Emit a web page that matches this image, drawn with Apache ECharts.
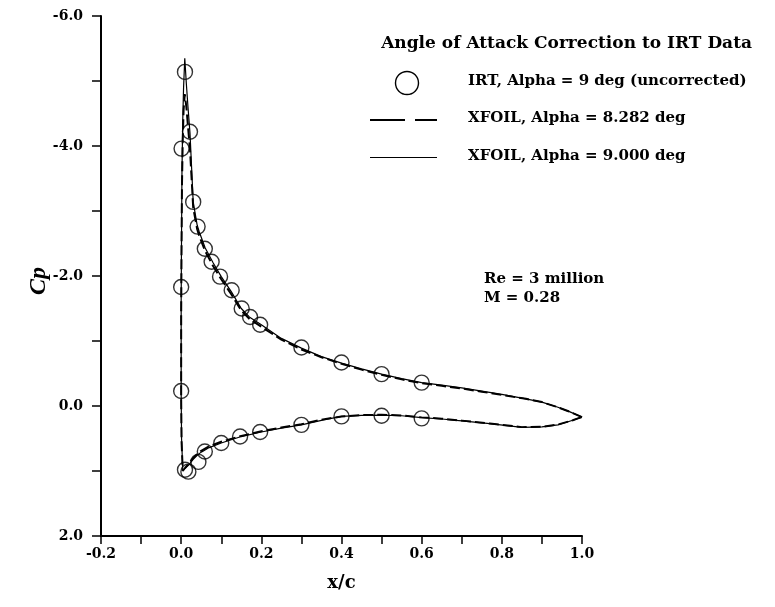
<!DOCTYPE html>
<html>
<head>
<meta charset="utf-8">
<title>Angle of Attack Correction to IRT Data</title>
<script src="https://cdn.jsdelivr.net/npm/echarts@6/dist/echarts.min.js"></script>
<style>
  html, body { margin: 0; padding: 0; background: #fff; }
  #chart { width: 775px; height: 607px; }
</style>
</head>
<body>
<div id="chart"></div>
<script>
// Pressure distribution, x/c vs Cp

// IRT measurements, alpha = 9 deg (uncorrected)
const irtX = [0.0, 0.0, 0.001, 0.0095, 0.022, 0.030, 0.041, 0.059, 0.076, 0.097, 0.126, 0.151, 0.172, 0.197, 0.30, 0.40, 0.50, 0.60,
              0.0095, 0.018, 0.043, 0.059, 0.10, 0.147, 0.197, 0.30, 0.40, 0.50, 0.60];
const irtCp = [-0.23, -1.83, -3.96, -5.14, -4.22, -3.14, -2.76, -2.42, -2.22, -1.99, -1.78, -1.50, -1.37, -1.25, -0.90, -0.67, -0.49, -0.36,
               0.98, 1.01, 0.86, 0.70, 0.57, 0.47, 0.40, 0.29, 0.16, 0.15, 0.19];

// XFOIL surface stations, upper TE -> LE -> lower TE
const xfoilX = [1.0, 0.97, 0.94, 0.9, 0.86, 0.8, 0.75, 0.7, 0.65, 0.6, 0.55, 0.5, 0.45, 0.4, 0.35, 0.3, 0.25, 0.2, 0.17, 0.15,
                0.125, 0.1, 0.08, 0.06, 0.045, 0.04, 0.03, 0.022, 0.017, 0.013, 0.009, 0.006, 0.004, 0.002, 0.001, 0.0,
                0.0, 0.001, 0.004, 0.01, 0.02, 0.03, 0.04, 0.05, 0.07, 0.1, 0.15, 0.2, 0.25, 0.3, 0.35, 0.4, 0.45, 0.5,
                0.55, 0.6, 0.65, 0.7, 0.77, 0.85, 0.9, 0.94, 0.977, 0.99, 1.0];
// XFOIL, alpha = 8.282 deg
const xfoil8Cp = [0.17, 0.09, 0.02, -0.06, -0.11, -0.17, -0.22, -0.27, -0.31, -0.35, -0.41, -0.48, -0.56, -0.65, -0.75, -0.87, -1.02, -1.22, -1.34, -1.47,
                  -1.72, -1.95, -2.15, -2.38, -2.62, -2.72, -3.05, -3.95, -4.3, -4.6, -4.8, -4.55, -4.1, -3.4, -2.5, -1.4,
                  -0.1, 0.55, 1.0, 0.95, 0.88, 0.80, 0.74, 0.69, 0.62, 0.55, 0.46, 0.39, 0.33, 0.28, 0.21, 0.16, 0.14, 0.135,
                  0.145, 0.175, 0.195, 0.225, 0.27, 0.325, 0.32, 0.285, 0.22, 0.19, 0.17];
// XFOIL, alpha = 9.000 deg
const xfoil9Cp = [0.17, 0.09, 0.02, -0.06, -0.11, -0.18, -0.23, -0.28, -0.32, -0.36, -0.42, -0.49, -0.57, -0.66, -0.76, -0.89, -1.04, -1.25, -1.37, -1.50,
                  -1.76, -1.99, -2.2, -2.43, -2.68, -2.78, -3.14, -4.2, -4.6, -4.95, -5.35, -4.9, -4.4, -3.6, -2.7, -1.6,
                  -0.2, 0.5, 0.99, 0.96, 0.90, 0.82, 0.76, 0.71, 0.64, 0.57, 0.47, 0.40, 0.34, 0.29, 0.22, 0.16, 0.145, 0.14,
                  0.15, 0.18, 0.20, 0.23, 0.27, 0.33, 0.32, 0.29, 0.22, 0.19, 0.17];

const legendTitle = 'Angle of Attack Correction to IRT Data';
const seriesNames = ['IRT, Alpha = 9 deg (uncorrected)', 'XFOIL, Alpha = 8.282 deg', 'XFOIL, Alpha = 9.000 deg'];
const conditions = ['Re = 3 million', 'M = 0.28'];

const zip = (xs, ys) => xs.map((x, i) => [x, ys[i]]);

const SERIF = '"DejaVu Serif", "Liberation Serif", serif';
const INK = '#000';

const chart = echarts.init(document.getElementById('chart'), null, { renderer: 'canvas' });

const labelStyle = { color: INK, fontFamily: SERIF, fontWeight: 'bold', fontSize: 14 };
const entryFont = 'bold 15px ' + SERIF;

chart.setOption({
  backgroundColor: '#fff',
  animation: false,
  grid: { left: 101, right: 193, top: 16, bottom: 71 },
  xAxis: {
    type: 'value', min: -0.2, max: 1.0, interval: 0.1,
    name: 'x/c', nameLocation: 'middle', nameGap: 38,
    nameTextStyle: { color: INK, fontFamily: SERIF, fontWeight: 'bold', fontSize: 18 },
    axisLine: { show: true, onZero: false, lineStyle: { color: INK, width: 2 } },
    axisTick: { show: true, inside: false, length: 8, lineStyle: { color: INK, width: 1.5 } },
    axisLabel: Object.assign({ margin: 11, formatter: v => (Math.round(v * 10) % 2 === 0 ? v.toFixed(1) : '') }, labelStyle),
    splitLine: { show: false }
  },
  yAxis: {
    type: 'value', min: -6, max: 2, interval: 1, inverse: true,
    name: 'Cp', nameLocation: 'middle', nameGap: 50, nameRotate: 90, nameMoveOverlap: false,
    nameTextStyle: { color: INK, fontFamily: '"Liberation Serif", serif', fontStyle: 'italic', fontWeight: 'bold', fontSize: 24, padding: [0, 10, 0, 0] },
    axisLine: { show: true, onZero: false, lineStyle: { color: INK, width: 2 } },
    axisTick: { show: true, inside: false, length: 9, lineStyle: { color: INK, width: 1.5 } },
    axisLabel: Object.assign({ margin: 18, formatter: v => (Math.round(v) % 2 === 0 ? v.toFixed(1) : '') }, labelStyle),
    splitLine: { show: false }
  },
  series: [
    {
      name: seriesNames[1], type: 'line', data: zip(xfoilX, xfoil8Cp),
      showSymbol: false, symbol: 'none',
      lineStyle: { color: INK, width: 2, type: [10, 4] }, z: 2
    },
    {
      name: seriesNames[2], type: 'line', data: zip(xfoilX, xfoil9Cp),
      showSymbol: false, symbol: 'none',
      lineStyle: { color: INK, width: 1.2 }, z: 3
    },
    {
      name: seriesNames[0], type: 'scatter', data: zip(irtX, irtCp),
      symbol: 'circle', symbolSize: 15,
      itemStyle: { color: 'rgba(0,0,0,0)', borderColor: INK, borderWidth: 1.4 }, z: 4
    }
  ],
  graphic: [
    { type: 'text', right: 23, top: 35, style: { text: legendTitle, fill: INK, font: 'bold 17px ' + SERIF } },
    { type: 'circle', shape: { cx: 407, cy: 83, r: 11.5 }, style: { fill: 'none', stroke: INK, lineWidth: 1.4 } },
    { type: 'text', left: 468, top: 74, style: { text: seriesNames[0], fill: INK, font: entryFont } },
    { type: 'line', shape: { x1: 370, y1: 120, x2: 405, y2: 120 }, style: { stroke: INK, lineWidth: 2 } },
    { type: 'line', shape: { x1: 415, y1: 120, x2: 437, y2: 120 }, style: { stroke: INK, lineWidth: 2 } },
    { type: 'text', left: 468, top: 111, style: { text: seriesNames[1], fill: INK, font: entryFont } },
    { type: 'line', shape: { x1: 370, y1: 157.5, x2: 437, y2: 157.5 }, style: { stroke: INK, lineWidth: 1.2 } },
    { type: 'text', left: 468, top: 149, style: { text: seriesNames[2], fill: INK, font: entryFont } },
    { type: 'text', left: 484, top: 272, style: { text: conditions[0], fill: INK, font: 'bold 15px ' + SERIF } },
    { type: 'text', left: 484, top: 291, style: { text: conditions[1], fill: INK, font: 'bold 15px ' + SERIF } }
  ]
});
</script>
</body>
</html>
